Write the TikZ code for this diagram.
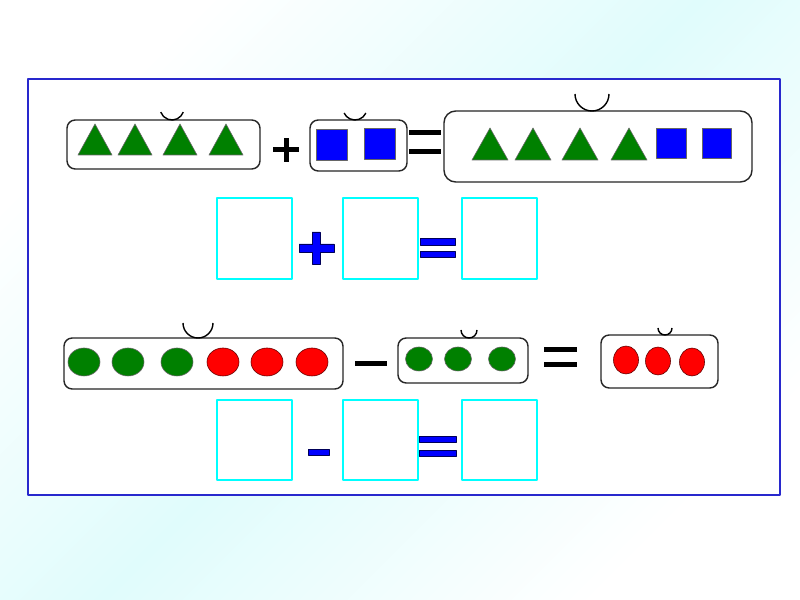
\documentclass[tikz,border=0pt]{standalone}
\definecolor{frameblue}{RGB}{40,40,205}
\definecolor{figgreen}{RGB}{0,128,0}
\definecolor{paleyan}{RGB}{224,252,252}
\definecolor{boxcyan}{RGB}{0,255,255}
\definecolor{signblue}{RGB}{0,0,255}
\definecolor{figred}{RGB}{255,0,0}
\begin{document}
\begin{tikzpicture}[x=0.03cm, y=-0.03cm, line join=round,
    setbox/.style={draw=black!85, line width=1.2pt, fill=white, rounded corners=7pt},
    answerbox/.style={draw=boxcyan, line width=2.4pt, fill=white},
    trifig/.style={fill=figgreen, draw=black!60, line width=0.5pt},
    sqfig/.style={fill=signblue, draw=black!60, line width=0.5pt},
    greendot/.style={fill=figgreen, draw=black!60, line width=0.5pt},
    reddot/.style={fill=figred, draw=figred!40!black, line width=0.5pt},
    smile/.style={draw=black, line width=1.2pt},
    bluesign/.style={fill=signblue, draw=signblue!35!black, line width=0.5pt}]
    \useasboundingbox (0,0) rectangle (800,600);
    \shade[top color=white, bottom color=white, middle color=paleyan, shading angle=45] (0,0) rectangle (800,600);
    \draw[frameblue, line width=1.8pt, fill=white] (28,79) rectangle (780,495);

    % row 1: four triangles and two squares
    \draw[setbox] (67,120) rectangle (260,169);
    \foreach \x in {95,135,180,226}
        \draw[trifig] (\x-17,155) -- (\x,124) -- (\x+17,155) -- cycle;
    \draw[smile] (172,108) ++(20:12) arc[start angle=20, end angle=160, radius=12];
    \fill (273,147.5) rectangle (299,152.5);
    \fill (283.5,138) rectangle (288.5,162);
    \draw[setbox] (310,120) rectangle (407,171);
    \draw[sqfig] (316,129) rectangle (347,160);
    \draw[sqfig] (364,128) rectangle (395,159);
    \draw[smile] (355,108) ++(25:12) arc[start angle=25, end angle=155, radius=12];
    \fill (409,130) rectangle (441,135);
    \fill (409,149) rectangle (441,154);
    \draw[setbox, rounded corners=10pt] (444,111) rectangle (752,182);
    \foreach \x in {490,533,580,629}
        \draw[trifig] (\x-18,160) -- (\x,128) -- (\x+18,160) -- cycle;
    \draw[sqfig] (656,128) rectangle (686,158);
    \draw[sqfig] (702,128) rectangle (731,158);
    \draw[smile] (609,94) arc[start angle=0, end angle=180, radius=17];

    % row 2: empty boxes for the sum
    \foreach \x in {217,343,462}
        \draw[answerbox] (\x,198) rectangle ++(75,81);
    \draw[bluesign] (299,244) -- (312,244) -- (312,232) -- (320,232) -- (320,244) -- (334,244)
        -- (334,252) -- (320,252) -- (320,264) -- (312,264) -- (312,252) -- (299,252) -- cycle;
    \draw[bluesign] (420,238) rectangle (455,245);
    \draw[bluesign] (420,251) rectangle (455,257);

    % row 3: six dots minus three
    \draw[setbox] (64,338) rectangle (343,389);
    \foreach \x in {84,128,177}
        \draw[greendot] (\x,362) ellipse[x radius=16, y radius=14];
    \foreach \x in {223,267,312}
        \draw[reddot] (\x,362) ellipse[x radius=16, y radius=14];
    \draw[smile] (213,323) arc[start angle=0, end angle=180, radius=15];
    \fill (355,361) rectangle (387,366);
    \draw[setbox] (398,338) rectangle (528,383);
    \foreach \x in {419,458,502}
        \draw[greendot] (\x,359) ellipse[x radius=13.5, y radius=12];
    \draw[smile] (477,330) arc[start angle=0, end angle=180, radius=8];
    \fill (544,347) rectangle (577,352);
    \fill (544,362) rectangle (577,367);
    \draw[setbox] (601,335) rectangle (718,388);
    \draw[reddot] (626,360) ellipse[x radius=12.5, y radius=14];
    \draw[reddot] (658,361) ellipse[x radius=12.5, y radius=14];
    \draw[reddot] (692,362) ellipse[x radius=12.5, y radius=14];
    \draw[smile] (672,328) arc[start angle=0, end angle=180, radius=7];

    % row 4: empty boxes for the difference
    \foreach \x in {217,343,462}
        \draw[answerbox] (\x,400) rectangle ++(75,80);
    \draw[bluesign] (308,449) rectangle (329,455);
    \draw[bluesign] (419,436) rectangle (456,442);
    \draw[bluesign] (419,450) rectangle (456,456);
\end{tikzpicture}
\end{document}
